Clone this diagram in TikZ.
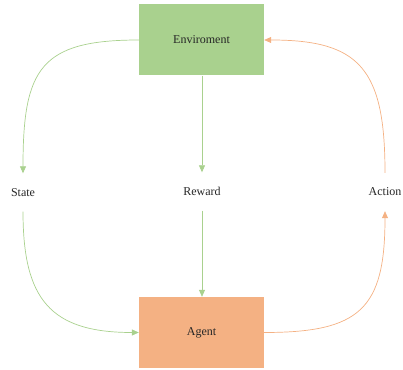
\documentclass[tikz,border=0pt]{standalone}
\usepackage{fontspec}
\setmainfont{Liberation Serif}
\usetikzlibrary{arrows.meta}
\definecolor{gfill}{HTML}{A9D18E}
\definecolor{ofill}{HTML}{F4B183}
\definecolor{txt}{HTML}{262626}
\begin{document}
\begin{tikzpicture}[x=1pt,y=1pt,
  box/.style={minimum width=125pt,minimum height=71pt,inner sep=0pt,font=\fontsize{12}{14}\selectfont,text=txt},
  lbl/.style={minimum height=38pt,inner sep=0pt,font=\fontsize{12}{14}\selectfont,text=txt},
  gline/.style={draw=gfill,line width=0.7pt,-{Triangle[length=7pt,width=6pt]}},
  oline/.style={draw=ofill,line width=0.7pt,-{Triangle[length=7pt,width=6pt]}}]
\useasboundingbox (0,0) rectangle (403,369);
\node[box,fill=gfill] (env) at (201.5,329) {Enviroment};
\node[box,fill=ofill] (agent) at (201.5,36.5) {Agent};
\node[lbl] (state) at (23,176.5) {State};
\node[lbl] (reward) at (202,177.5) {Reward};
\node[lbl] (action) at (385,177) {Action};
\draw[gline] (env.west) .. controls (40,329) and (23,300) .. (state.north);
\draw[gline] (env.south -| reward) -- (reward.north);
\draw[gline] (reward.south) -- (agent.north -| reward);
\draw[gline] (state.south) .. controls (23,70) and (50,36.5) .. (agent.west);
\draw[oline] (agent.east) .. controls (360,36.5) and (385,60) .. (action.south);
\draw[oline] (action.north) .. controls (385,300) and (360,329) .. (env.east);
\end{tikzpicture}
\end{document}
